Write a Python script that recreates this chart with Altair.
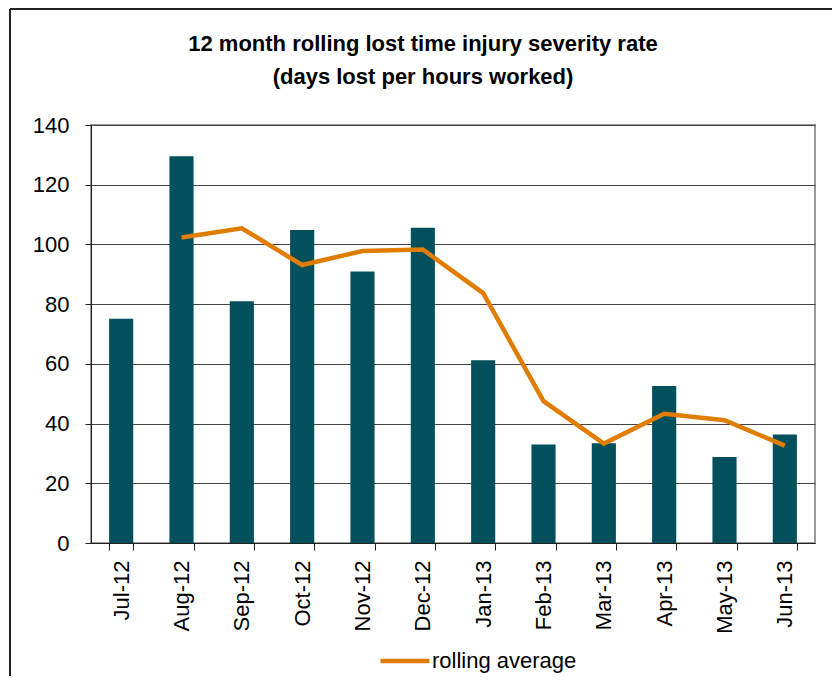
import altair as alt
import pandas as pd

months = ["Jul-12", "Aug-12", "Sep-12", "Oct-12", "Nov-12", "Dec-12",
          "Jan-13", "Feb-13", "Mar-13", "Apr-13", "May-13", "Jun-13"]
severity = [75.1, 129.5, 81.0, 104.8, 90.9, 105.6, 61.2, 33.0, 33.4, 52.6, 28.8, 36.3]
rolling = [None, 102.3, 105.4, 93.1, 97.8, 98.3, 83.7, 47.5, 33.3, 43.3, 41.1, 32.6]
y_ticks = [0, 20, 40, 60, 80, 100, 120, 140]

df = pd.DataFrame({"month": months, "severity": severity, "rolling": rolling})
df["series"] = "rolling average"

FONT = "Liberation Sans"

x_enc = alt.X(
    "month:N", sort=months, title=None,
    scale=alt.Scale(paddingInner=0.6, paddingOuter=0.3),
    axis=alt.Axis(labelAngle=-90, labelFontSize=22, labelFont=FONT, labelColor="#000",
                  tickBand="extent", tickSize=7, tickColor="#222", domainColor="#222",
                  labelPadding=10, grid=False),
)
y_scale = alt.Scale(domain=[0, 140], nice=False)

bars = alt.Chart(df).mark_bar(color="#02505c").encode(
    x=x_enc,
    y=alt.Y("severity:Q", scale=y_scale, title=None,
            axis=alt.Axis(values=y_ticks, labelFontSize=22, labelFont=FONT, labelColor="#000",
                          tickSize=6, tickColor="#222", domainColor="#222", labelPadding=16,
                          grid=True, gridColor="#444", gridWidth=1)),
)

line = alt.Chart(df).mark_line(strokeWidth=4.5, strokeJoin="miter").encode(
    x=alt.X("month:N", sort=months),
    y=alt.Y("rolling:Q", scale=y_scale),
    stroke=alt.Stroke(
        "series:N", title=None,
        scale=alt.Scale(domain=["rolling average"], range=["#e07d00"]),
        legend=alt.Legend(orient="none", legendX=287, legendY=509, symbolType="stroke",
                          symbolSize=2400, symbolStrokeWidth=4.5, labelFontSize=22,
                          labelFont=FONT, labelColor="#000", labelOffset=0, padding=0),
    ),
)

frame_data = alt.Data(values=[{"a": 1}])
left_frame = alt.Chart(frame_data).mark_rule(color="#222", strokeWidth=2).encode(
    x=alt.value(-81), y=alt.value(-116), y2=alt.value(580))
top_frame = alt.Chart(frame_data).mark_rule(color="#222", strokeWidth=2).encode(
    x=alt.value(-81), x2=alt.value(760), y=alt.value(-116))

chart = alt.layer(bars, line, left_frame, top_frame).properties(
    width=724, height=418,
    title=alt.TitleParams(
        text=["12 month rolling lost time injury severity rate", "(days lost per hours worked)"],
        font=FONT, fontSize=22, fontWeight="bold", color="#000", lineHeight=33,
        anchor="middle", frame="group", dx=-30, offset=-81),
    autosize=alt.AutoSizeParams(type="none"),
    padding={"left": 83, "top": 117, "right": 17, "bottom": 133},
    background="white",
).configure_view(stroke="#999", strokeWidth=2)

chart.save("out.html", embed_options={"renderer": "svg", "actions": False})
